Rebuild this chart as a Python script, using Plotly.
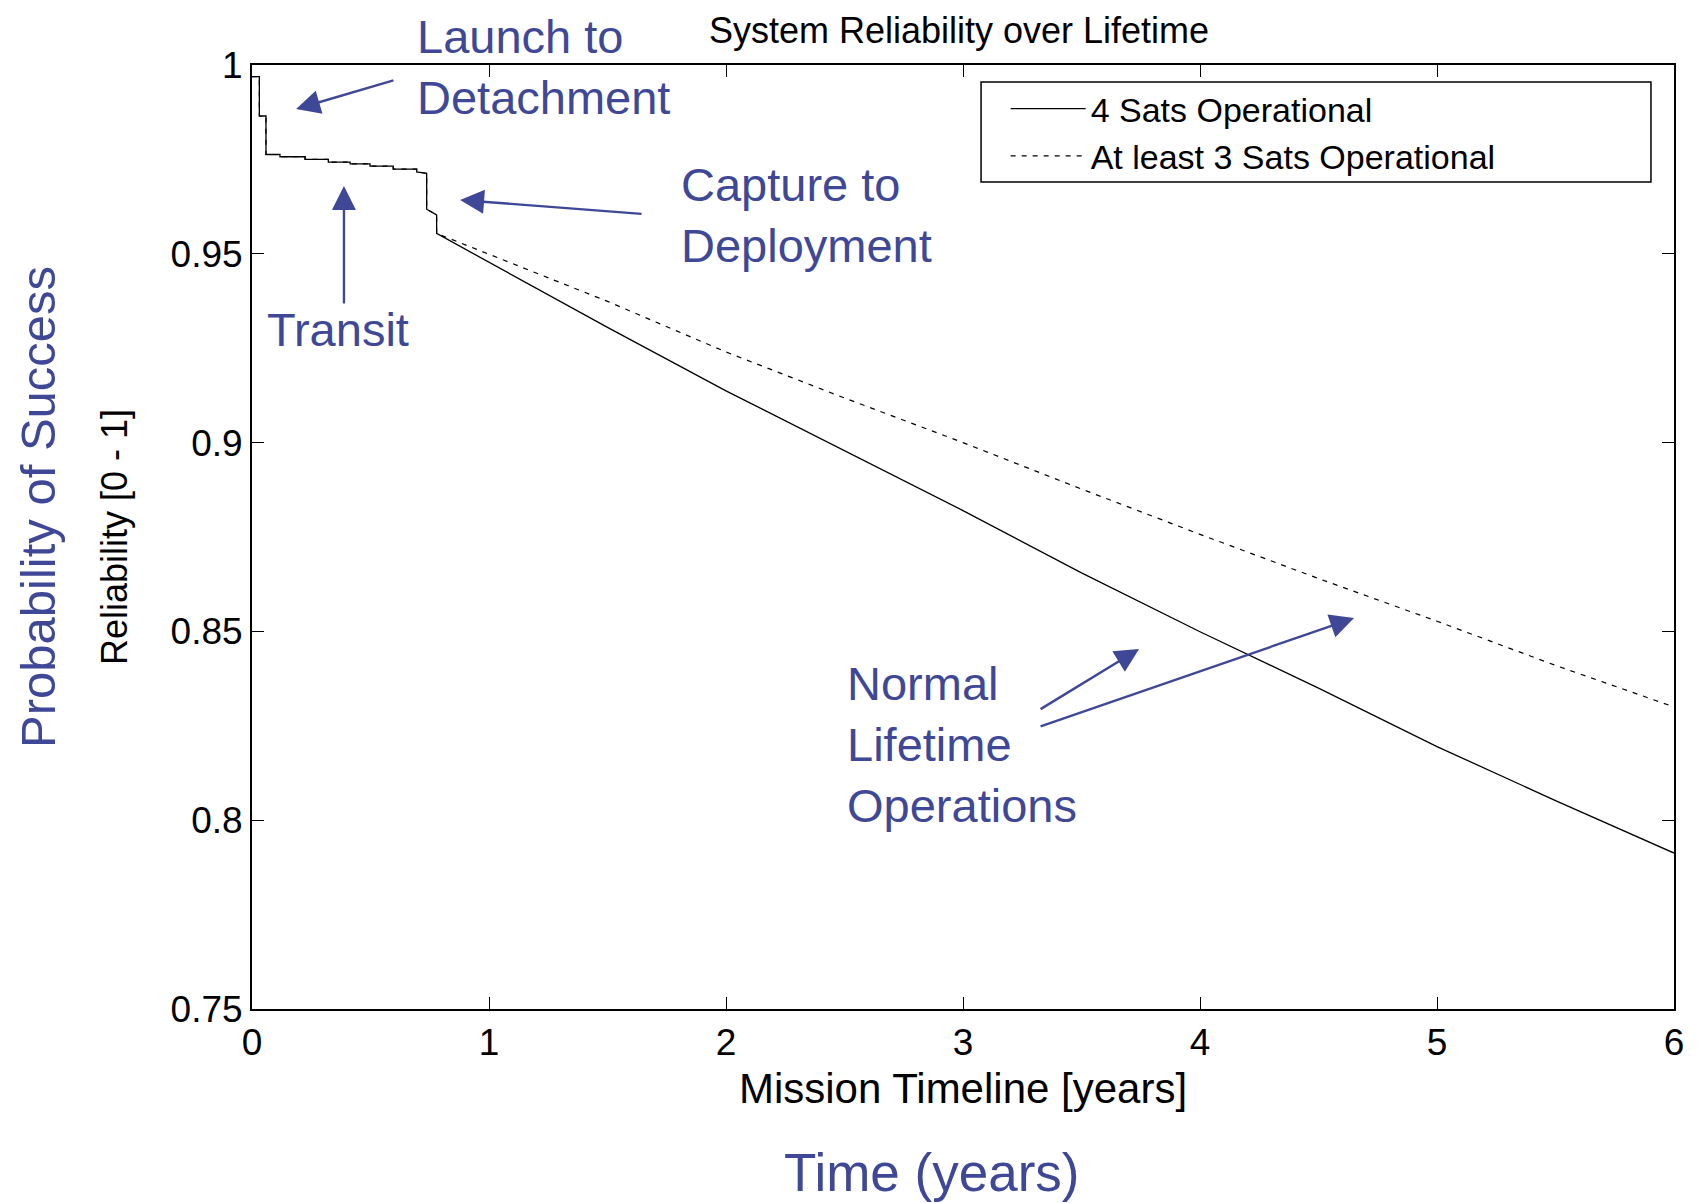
import plotly.graph_objects as go

# launch / transit / capture steps (shared by both curves)
early_t = [0.000, 0.031, 0.031, 0.059, 0.059, 0.118, 0.118, 0.224, 0.224, 0.322, 0.322,
           0.414, 0.414, 0.498, 0.498, 0.596, 0.596, 0.695, 0.695, 0.737, 0.737, 0.779, 0.779]
early_r = [0.9969, 0.9969, 0.9865, 0.9865, 0.9763, 0.9763, 0.9757, 0.9757, 0.9750, 0.9750, 0.9743,
           0.9743, 0.9738, 0.9738, 0.9732, 0.9732, 0.9724, 0.9724, 0.9717, 0.9713, 0.9618, 0.9603, 0.9554]

# normal lifetime operations
life_t = [1.0, 1.5, 2.0, 2.5, 3.0, 3.5, 4.0, 4.5, 5.0, 5.5, 6.0]
rel_4sats = [0.9478, 0.9305, 0.9137, 0.8978, 0.8820, 0.8655, 0.8499, 0.8350, 0.8195, 0.8052, 0.7913]
rel_3sats = [0.9499, 0.9374, 0.9240, 0.9118, 0.9000, 0.8877, 0.8757, 0.8640, 0.8527, 0.8410, 0.8300]

series_names = ["4 Sats Operational", "At least 3 Sats Operational"]

x_ticks = [0, 1, 2, 3, 4, 5, 6]
y_ticks = [0.75, 0.8, 0.85, 0.9, 0.95, 1.0]
y_ticktext = ["0.75", "0.8", "0.85", "0.9", "0.95", "1"]

BLUE = "#3f4896"
FONT = "Liberation Sans, Arial, sans-serif"

fig = go.Figure()
fig.add_trace(go.Scatter(x=early_t + life_t, y=early_r + rel_4sats, mode="lines",
                         name=series_names[0], line=dict(color="black", width=1.3)))
fig.add_trace(go.Scatter(x=early_t + life_t, y=early_r + rel_3sats, mode="lines",
                         name=series_names[1], line=dict(color="black", width=1.2, dash="5px,6px")))

# blue callouts (text)
labels = [
    ("Launch to<br>Detachment", 0.1146, 0.9984),
    ("Capture to<br>Deployment", 0.3003, 0.8411),
    ("Transit", 0.0091, 0.7193),
    ("Normal<br>Lifetime<br>Operations", 0.417, 0.2797),
]
for txt, px, py in labels:
    fig.add_annotation(text=txt, x=px, y=py, xref="paper", yref="paper", showarrow=False,
                       xanchor="left", yanchor="middle", align="left",
                       font=dict(family=FONT, size=47, color=BLUE))

# blue callouts (arrows) : head (x, y), tail (ax, ay) in data units
arrows = [
    (0.186, 0.98835, 0.603, 0.99603),
    (0.878, 0.96425, 1.650, 0.96054),
    (0.388, 0.96796, 0.388, 0.93644),
    (3.743, 0.84534, 3.321, 0.82918),
    (4.650, 0.85355, 3.321, 0.82468),
]
for hx, hy, tx, ty in arrows:
    fig.add_annotation(x=hx, y=hy, ax=tx, ay=ty, xref="x", yref="y", axref="x", ayref="y",
                       text="", showarrow=True, arrowhead=2, arrowsize=2.0, arrowwidth=2.4,
                       arrowcolor=BLUE)

fig.add_annotation(text="Probability of Success", x=-0.1505, y=0.5318, xref="paper", yref="paper",
                   xanchor="center", yanchor="middle", showarrow=False, textangle=-90,
                   font=dict(family=FONT, size=49, color=BLUE))
fig.add_annotation(text="Time (years)", x=0.4775, y=-0.1737, xref="paper", yref="paper",
                   xanchor="center", yanchor="middle", showarrow=False,
                   font=dict(family=FONT, size=53, color=BLUE))

# legend frame
fig.add_shape(type="rect", xref="paper", yref="paper", x0=0.5127, x1=0.9838, y0=0.876, y1=0.982,
              line=dict(color="black", width=1.5), fillcolor="white", layer="below")

fig.update_layout(
    width=1690, height=1195,
    margin=dict(l=244, r=24, t=57, b=194),
    paper_bgcolor="white", plot_bgcolor="white",
    font=dict(family=FONT, color="black", size=36),
    title=dict(text="System Reliability over Lifetime", x=0.5627, xanchor="center",
               y=0.9816, yanchor="middle", font=dict(size=36, color="black")),
    showlegend=True,
    legend=dict(x=0.530, y=0.984, xanchor="left", yanchor="top", bgcolor="rgba(0,0,0,0)",
                borderwidth=0, font=dict(size=34), tracegroupgap=0, itemwidth=75),
)
fig.update_xaxes(range=[0, 6], tickvals=x_ticks, ticks="inside", ticklen=12, tickcolor="black",
                 showline=True, linecolor="black", linewidth=2, mirror="ticks", showgrid=False,
                 zeroline=False, tickfont=dict(size=37),
                 title=dict(text="Mission Timeline [years]", font=dict(size=42), standoff=11))
fig.update_yaxes(range=[0.75, 1.0], tickvals=y_ticks, ticktext=y_ticktext, ticks="inside",
                 ticklen=12, tickcolor="black", showline=True, linecolor="black", linewidth=2,
                 mirror="ticks", showgrid=False, zeroline=False, tickfont=dict(size=37),
                 title=dict(text="Reliability [0 - 1]", font=dict(size=36), standoff=32))

fig.write_html("out.html")
